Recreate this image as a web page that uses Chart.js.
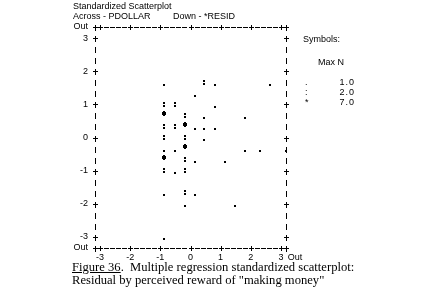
<!DOCTYPE html>
<html>
<head>
<meta charset="utf-8">
<script src="https://cdn.jsdelivr.net/npm/chart.js@4.4.1/dist/chart.umd.min.js"></script>
<style>
  html, body { margin: 0; padding: 0; background: #fff; }
  #wrap { position: relative; width: 428px; height: 302px; overflow: hidden; }
  #chart { position: absolute; left: 0; top: 0; }
  .spss { position: absolute; font: 9px "Liberation Sans", sans-serif; color: #000; white-space: pre; line-height: 10px; }
  .caption { position: absolute; left: 72px; font: 12.6px "Liberation Serif", serif; color: #000; white-space: pre; line-height: 13px; }
</style>
</head>
<body>
<div id="wrap">
  <canvas id="chart" width="428" height="302"></canvas>
  <div class="spss" style="left:73px;top:1px">Standardized Scatterplot</div>
  <div class="spss" style="left:73px;top:11px">Across - PDOLLAR</div>
  <div class="spss" style="left:173px;top:11px">Down - *RESID</div>
  <div class="spss" style="left:303px;top:34px">Symbols:</div>
  <div class="spss" style="left:318px;top:57px">Max N</div>
  <div id="legendRows"></div>
  <div class="caption" style="top:261px"><u>Figure 36</u>.  Multiple regression standardized scatterplot:</div>
  <div class="caption" style="top:274px">Residual by perceived reward of "making money"</div>
</div>
<script>
// Axis ticks (the "Out" rows/columns sit one cell outside +/-3)
const xTicks = [-3.17, -3, -2, -1, 0, 1, 2, 3, 3.17];
const xTickLabels = ['', '-3', '-2', '-1', '0', '1', '2', '3', 'Out'];
const yTicks = [10 / 3, 3, 2, 1, 0, -1, -2, -3, -10 / 3];
const yTickLabels = ['Out', '3', '2', '1', '0', '-1', '-2', '-3', 'Out'];

// Cells with one case  (".")
const singleX = [-0.85, 0.82, 2.65, 0.15, 0.82, 0.48, 1.82, 0.15, 0.48, 0.82, 0.48,
                 -0.85, -0.5, 1.82, 2.32, 3.17, 0.15, 1.15, -0.5, -0.85, 0.15, -0.17, 1.48, -0.85];
const singleY = [1.67, 1.67, 1.67, 1.33, 1, 0.67, 0.67, 0.33, 0.33, 0.33, 0,
                 -0.33, -0.33, -0.33, -0.33, -0.33, -0.67, -0.67, -1, -1.67, -1.67, -2, -2, -3];

// Cells with two cases  (":")
const doubleX = [0.48, -0.85, -0.5, -0.17, -0.85, -0.5, -0.85, -0.17, -0.17, -0.85, -0.17, -0.17];
const doubleY = [1.67, 1, 1, 0.67, 0.33, 0.33, 0, 0, -0.67, -1, -1, -1.67];

// Cells with three or more cases  ("*")
const manyX = [-0.85, -0.17, -0.17, -0.85];
const manyY = [0.67, 0.33, -0.33, -0.67];

// Symbol legend
const legendSymbols = ['.', ':', '*'];
const legendMaxN = ['1.0', '2.0', '7.0'];

const toPoints = (xs, ys) => xs.map((x, i) => ({ x: x, y: ys[i] }));

// Small pixel glyphs that stand in for the line-printer characters
const makeGlyph = (cells) => {
    const c = document.createElement('canvas');
    c.width = 7;
    c.height = 11;
    const g = c.getContext('2d');
    g.fillStyle = '#000';
    cells.forEach(([x, y, w, h]) => g.fillRect(x, y, w, h));
    return c;
};
const dotGlyph = makeGlyph([[2, 7, 2, 2]]);
const colonGlyph = makeGlyph([[2, 3, 2, 2], [2, 6, 2, 2]]);
const starGlyph = makeGlyph([[2, 1, 2, 1], [1, 2, 4, 3], [2, 5, 2, 1]]);

// Legend rows
const legendRows = document.getElementById('legendRows');
legendRows.innerHTML = legendSymbols.map((s, i) => `
    <div class="spss" style="left:305px;top:${77 + i * 10}px">${s}</div>
    <div class="spss" style="left:318px;top:${77 + i * 10}px;width:37px;text-align:right;letter-spacing:1px">${legendMaxN[i]}</div>
`).join('');

// Draws the dashed character frame with "+" at every tick
const asciiFrame = {
    id: 'asciiFrame',
    beforeDatasetsDraw(chart) {
        chart.ctx.imageSmoothingEnabled = false;
    },
    afterDraw(chart) {
        const { ctx, chartArea: a, scales } = chart;
        const L = Math.round(a.left), R = Math.round(a.right);
        const T = Math.round(a.top), B = Math.round(a.bottom);
        ctx.save();
        ctx.fillStyle = '#000';

        // "|" on each row of the side borders
        for (let k = 0; k <= 20; k++) {
            const py = Math.round(scales.y.getPixelForValue(10 / 3 - k / 3));
            ctx.fillRect(L, py - 2, 1, 6);
            ctx.fillRect(R, py - 2, 1, 6);
        }
        // "-" on each column of the top and bottom borders
        for (let k = 0; k <= 30; k++) {
            const px = Math.round(scales.x.getPixelForValue(-3 + k * 0.2));
            ctx.fillRect(px - 2, T, 5, 1);
            ctx.fillRect(px - 2, B, 5, 1);
        }

        const plus = (x, y) => {
            ctx.clearRect(x - 2, y - 2, 5, 5);
            ctx.fillRect(x - 2, y, 5, 1);
            ctx.fillRect(x, y - 2, 1, 5);
        };
        scales.x.ticks.forEach(t => plus(Math.round(scales.x.getPixelForValue(t.value)), B));
        scales.x2.ticks.forEach(t => plus(Math.round(scales.x2.getPixelForValue(t.value)), T));
        scales.y.ticks.forEach(t => plus(L, Math.round(scales.y.getPixelForValue(t.value))));
        scales.y2.ticks.forEach(t => plus(R, Math.round(scales.y2.getPixelForValue(t.value))));
        // corner joins between "Out" and "+-3"
        ctx.fillRect(L, T, 5, 1);
        ctx.fillRect(L, B, 5, 1);
        ctx.fillRect(R - 4, T, 5, 1);
        ctx.fillRect(R - 4, B, 5, 1);
        ctx.restore();
    }
};

const tickFont = { family: 'Liberation Sans', size: 9 };
const noGrid = { display: false, drawTicks: false, tickLength: 0 };
const hidden = { display: false };

const ctx = document.getElementById('chart').getContext('2d');
const chart = new Chart(ctx, {
    type: 'scatter',
    data: {
        datasets: [
            { label: '1', data: toPoints(singleX, singleY), pointStyle: dotGlyph, pointRadius: 3 },
            { label: '2', data: toPoints(doubleX, doubleY), pointStyle: colonGlyph, pointRadius: 3 },
            { label: '7', data: toPoints(manyX, manyY), pointStyle: starGlyph, pointRadius: 3 }
        ]
    },
    options: {
        responsive: false,
        animation: false,
        events: [],
        layout: { padding: 0 },
        plugins: {
            legend: { display: false },
            tooltip: { enabled: false }
        },
        scales: {
            x: {
                type: 'linear',
                position: 'bottom',
                min: -3.17,
                max: 3.17,
                afterBuildTicks: s => { s.ticks = xTicks.map(v => ({ value: v })); },
                afterFit: s => { s.height = 54; },
                grid: noGrid,
                border: hidden,
                ticks: {
                    autoSkip: false,
                    maxRotation: 0,
                    padding: 4,
                    color: '#000',
                    font: tickFont,
                    callback: (v, i) => i === xTickLabels.length - 1 ? '\u2003\u2003' + xTickLabels[i] : xTickLabels[i]
                }
            },
            x2: {
                type: 'linear',
                position: 'top',
                min: -3.17,
                max: 3.17,
                afterBuildTicks: s => { s.ticks = xTicks.map(v => ({ value: v })); },
                afterFit: s => { s.height = 27; },
                grid: noGrid,
                border: hidden,
                ticks: { display: false }
            },
            y: {
                type: 'linear',
                position: 'left',
                min: -10 / 3,
                max: 10 / 3,
                afterBuildTicks: s => { s.ticks = yTicks.map(v => ({ value: v })); },
                afterFit: s => { s.width = 95; },
                grid: noGrid,
                border: hidden,
                ticks: {
                    autoSkip: false,
                    padding: 7,
                    color: '#000',
                    font: tickFont,
                    callback: (v, i) => yTickLabels[i]
                }
            },
            y2: {
                type: 'linear',
                position: 'right',
                min: -10 / 3,
                max: 10 / 3,
                afterBuildTicks: s => { s.ticks = yTicks.map(v => ({ value: v })); },
                afterFit: s => { s.width = 142; },
                grid: noGrid,
                border: hidden,
                ticks: { display: false }
            }
        }
    },
    plugins: [asciiFrame]
});
</script>
</body>
</html>
